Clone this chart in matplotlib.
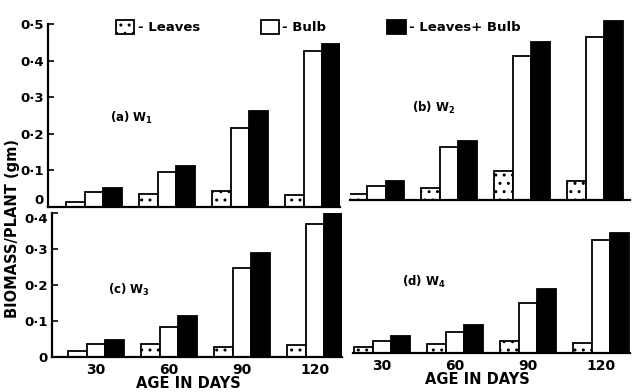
import numpy as np
import matplotlib
matplotlib.use("Agg")
import matplotlib.pyplot as plt
from matplotlib.patches import Patch

# Biomass per plant (gm)
days = ["30", "60", "90", "120"]
series = ["Leaves", "Bulb", "Leaves+ Bulb"]

w1_leaves = [0.015, 0.035, 0.044, 0.033]
w1_bulb = [0.040, 0.096, 0.215, 0.426]
w1_total = [0.051, 0.113, 0.262, 0.446]

w2_leaves = [0.016, 0.032, 0.078, 0.051]
w2_bulb = [0.037, 0.146, 0.393, 0.445]
w2_total = [0.052, 0.161, 0.433, 0.489]

w3_leaves = [0.017, 0.037, 0.029, 0.032]
w3_bulb = [0.035, 0.083, 0.248, 0.370]
w3_total = [0.046, 0.113, 0.290, 0.400]

w4_leaves = [0.017, 0.026, 0.033, 0.028]
w4_bulb = [0.033, 0.058, 0.140, 0.315]
w4_total = [0.047, 0.078, 0.179, 0.333]

plt.rcParams["font.family"] = "DejaVu Sans"
plt.rcParams["font.weight"] = "bold"
plt.rcParams["hatch.linewidth"] = 1.0

W, H = 632, 392
fig = plt.figure(figsize=(W / 100, H / 100), dpi=100)


def box(x0, x1, ytop, ybot):
    # pixel box -> figure fraction
    return [x0 / W, 1 - ybot / H, (x1 - x0) / W, (ybot - ytop) / H]


def fxy(x, y):
    return x / W, 1 - y / H


# (pixel box, xlim, ylim, data, label, label pos, left axis, x labels)
panels = [
    (box(48, 340, 24, 207), (-0.63, 3.37), (0, 0.5),
     (w1_leaves, w1_bulb, w1_total), "(a) W$_1$", (110, 118), True, False),
    (box(350, 630, 17, 200), (-0.36, 3.48), (0, 0.5),
     (w2_leaves, w2_bulb, w2_total), "(b) W$_2$", (412, 108), False, False),
    (box(52, 342, 213, 357), (-0.60, 3.37), (0, 0.4),
     (w3_leaves, w3_bulb, w3_total), "(c) W$_3$", (108, 290), True, True),
    (box(353, 630, 209, 353), (-0.40, 3.40), (0, 0.4),
     (w4_leaves, w4_bulb, w4_total), "(d) W$_4$", (402, 282), False, True),
]

x = np.arange(len(days))
bw = 0.255
styles = [dict(facecolor="white", hatch=".."),
          dict(facecolor="white"),
          dict(facecolor="black")]

for n, (rect, xlim, ylim, data, label, lpos, show_left, show_x) in enumerate(panels):
    ax = fig.add_axes(rect)
    for i, vals in enumerate(data):
        ax.bar(x + (i - 1) * bw, vals, width=bw, edgecolor="black",
               linewidth=1.3, **styles[i])
    ax.set_xlim(*xlim)
    ax.set_ylim(*ylim)
    for s in ["top", "right"]:
        ax.spines[s].set_visible(False)
    ax.spines["bottom"].set_linewidth(1.6)
    ax.spines["left"].set_linewidth(1.6)
    ax.patch.set_alpha(0)
    if show_left:
        ticks = np.arange(0, ylim[1] + 0.001, 0.1)
        ax.set_yticks(ticks)
        labels = ax.set_yticklabels(
            ["0"] + [f"{t:.1f}".replace(".", "·") for t in ticks[1:]],
            fontsize=9.5, fontweight="bold")
        # top and bottom panels share a corner: keep their labels apart
        if n == 0:
            labels[0].set_va("bottom")
        else:
            labels[-1].set_va("top")
        ax.tick_params(axis="y", direction="in", length=4, width=1.2, pad=3)
    else:
        ax.spines["left"].set_visible(False)
        ax.set_yticks([])
    if show_x:
        ax.set_xticks(x)
        ax.set_xticklabels(days, fontsize=10, fontweight="bold")
        ax.tick_params(axis="x", length=0, pad=4)
    else:
        ax.set_xticks([])
    fig.text(*fxy(*lpos), label, fontsize=8.5, fontweight="bold", va="center")

fig.text(*fxy(188, 383), "AGE IN DAYS", fontsize=10.5, fontweight="bold",
         ha="center", va="center")
fig.text(*fxy(477, 380), "AGE IN DAYS", fontsize=10.5, fontweight="bold",
         ha="center", va="center")
fig.text(*fxy(13, 228), "BIOMASS/PLANT (gm)", fontsize=10.5, fontweight="bold",
         rotation=90, ha="center", va="center")

handles = [Patch(edgecolor="black", linewidth=1.3, **st) for st in styles]
fig.legend(handles, ["- " + s for s in series], ncol=3, frameon=False,
           loc="upper left", bbox_to_anchor=fxy(104, 8), fontsize=9.5,
           handlelength=1.4, handleheight=1.3, handletextpad=0.25,
           columnspacing=4.6)

fig.savefig("out.png", dpi=100, facecolor="white")
